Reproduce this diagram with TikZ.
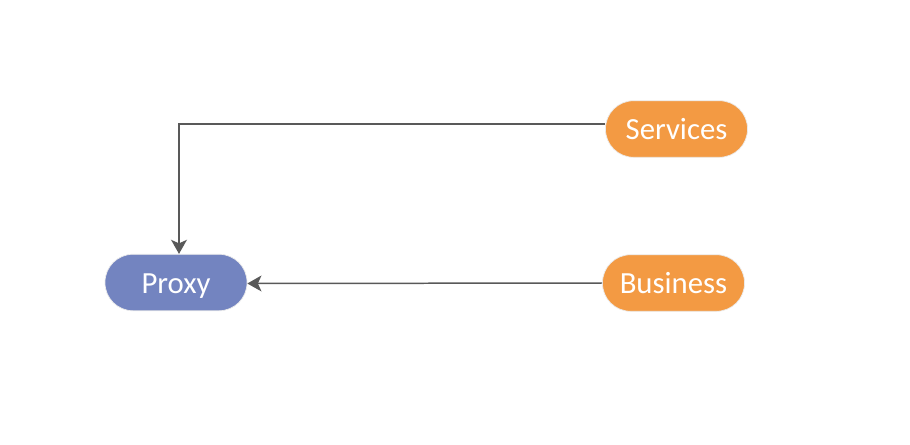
\documentclass[tikz,border=0pt]{standalone}
\usepackage{fontspec}
\setmainfont{Carlito}
\usetikzlibrary{arrows.meta}
\definecolor{proxyblue}{RGB}{115,132,192}
\definecolor{svcorange}{RGB}{243,154,67}
\definecolor{linegray}{RGB}{89,89,89}
\begin{document}
\begin{tikzpicture}[every node/.style={font=\fontsize{17.5}{20}\selectfont, text=white},
  pill/.style={rounded corners=0.56cm, minimum width=2.84cm, minimum height=1.13cm, inner sep=0pt, text height=12.5pt, text depth=0pt, draw=black!8, line width=0.4pt},
  link/.style={draw=linegray, line width=0.85pt, -{Stealth[length=8pt, width=9pt, inset=2pt]}}]
\useasboundingbox[fill=white] (0,0) rectangle (18.2,8.88);
\node[pill, fill=proxyblue] (proxy) at (3.52,3.23) {Proxy};
\node[pill, fill=svcorange] (services) at (13.53,6.30) {Services};
\node[pill, fill=svcorange] (business) at (13.47,3.22) {Business};
% connectors
\draw[link] ([yshift=0.1cm]services.west) -| ([xshift=0.06cm]proxy.north);
\draw[link] (business.west) -- ([yshift=-0.02cm]proxy.east);
\end{tikzpicture}
\end{document}
